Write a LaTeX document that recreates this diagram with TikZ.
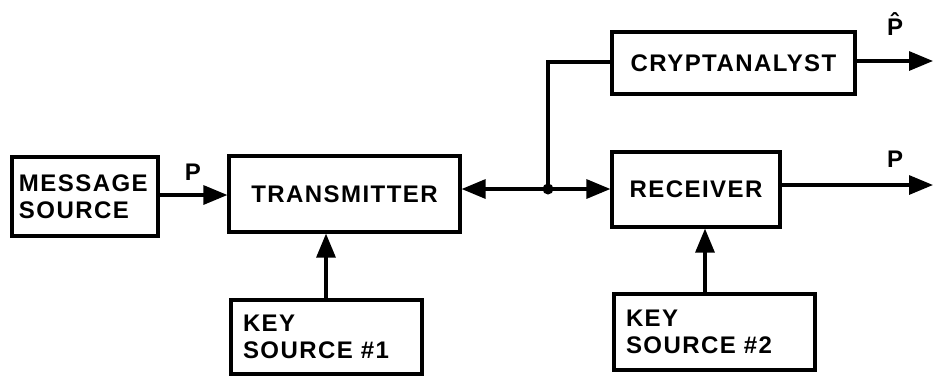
\documentclass[tikz,border=0pt]{standalone}
\usepackage{fontspec}
\newfontfamily\boxfont[LetterSpace=6]{Liberation Sans}
\usetikzlibrary{arrows.meta}
\begin{document}
\begin{tikzpicture}[x=1pt,y=-1pt,
  blk/.style={draw, line width=3.2pt, inner sep=0pt, font=\boxfont\bfseries\fontsize{24}{27}\selectfont},
  lbl/.style={inner sep=0pt, font=\boxfont\bfseries\fontsize{24}{27}\selectfont},
  conn/.style={line width=3.2pt},
  arr/.style={conn, -{Triangle[length=24pt,width=19pt]}},
  dotj/.style={circle, fill, inner sep=0pt, minimum size=11pt}]
\useasboundingbox (0,0) rectangle (935,376);
% boxes
\node[blk, minimum width=146, minimum height=79, text width=132pt, align=left] (msg) at (85,196.5) {MESSAGE\\SOURCE};
\node[blk, minimum width=231, minimum height=76] (tx) at (344.5,194) {TRANSMITTER};
\node[blk, minimum width=243, minimum height=62] (cry) at (733.5,63) {CRYPTANALYST};
\node[blk, minimum width=168, minimum height=75] (rx) at (696,189.5) {RECEIVER};
\node[blk, minimum width=191, minimum height=74, text width=167pt, align=left] (ks1) at (326.5,337) {KEY\\SOURCE \#1};
\node[blk, minimum width=201, minimum height=76, text width=177pt, align=left] (ks2) at (714.5,332) {KEY\\SOURCE \#2};
% junction and ends
\node[dotj] (j) at (548,189) {};
\coordinate (cryout) at (933,61);
\coordinate (rxout) at (933,185);
% labels
\node[lbl] (p1) at (193,172) {P};
\node[lbl] (p2) at (895,24) {\^{P}};
\node[lbl] (p3) at (895,159) {P};
% connectors
\draw[arr] (msg.east |- 0,195) -- (tx.west |- 0,195);
\draw[arr] (j.center) -- (tx.east |- j);
\draw[arr] (j.center) -- (rx.west |- j);
\draw[conn] (j.center) |- (cry.west |- 0,62);
\draw[arr] (cry.east |- cryout) -- (cryout);
\draw[arr] (rx.east |- rxout) -- (rxout);
\draw[arr] (ks1.north -| 326,0) -- (tx.south -| 326,0);
\draw[arr] (ks2.north -| 705,0) -- (rx.south -| 705,0);
\end{tikzpicture}
\end{document}
